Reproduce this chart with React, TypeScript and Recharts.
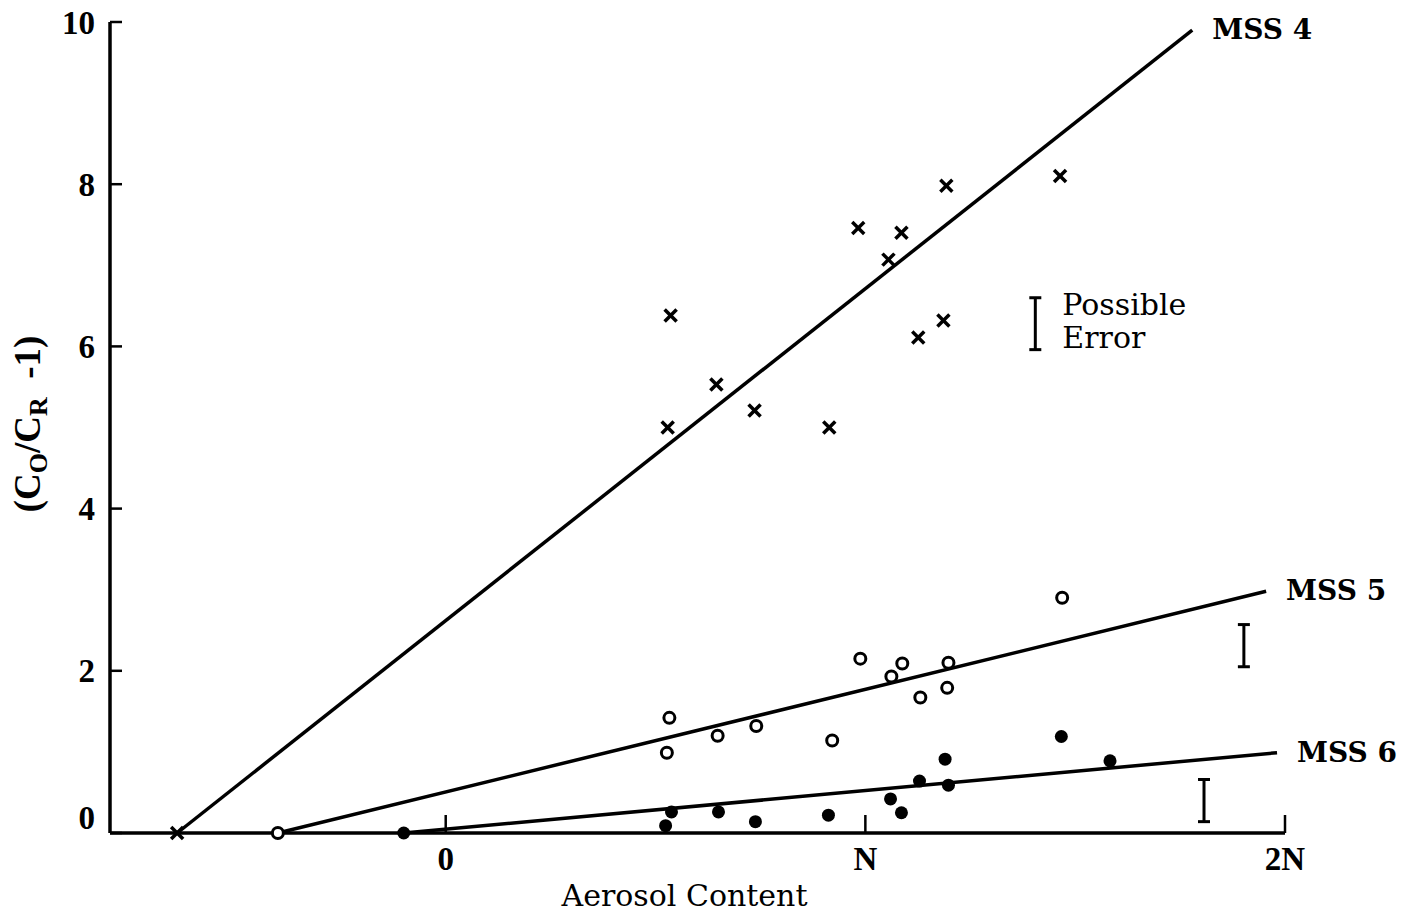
import React from 'react';
import { ComposedChart, Scatter, XAxis, YAxis, ErrorBar, Label } from 'recharts';

// x is in units of N (aerosol content), y is (Co/Cr - 1)
const mss4Points = [
  { x: -0.64, y: 0 },
  { x: 0.529, y: 5.0 },
  { x: 0.536, y: 6.38 },
  { x: 0.645, y: 5.53 },
  { x: 0.736, y: 5.21 },
  { x: 0.914, y: 5.0 },
  { x: 0.983, y: 7.46 },
  { x: 1.055, y: 7.07 },
  { x: 1.086, y: 7.4 },
  { x: 1.126, y: 6.11 },
  { x: 1.186, y: 6.32 },
  { x: 1.193, y: 7.98 },
  { x: 1.464, y: 8.1 },
];

const mss5Points = [
  { x: -0.4, y: 0 },
  { x: 0.527, y: 0.99 },
  { x: 0.533, y: 1.42 },
  { x: 0.648, y: 1.2 },
  { x: 0.74, y: 1.32 },
  { x: 0.921, y: 1.14 },
  { x: 0.988, y: 2.15 },
  { x: 1.062, y: 1.93 },
  { x: 1.088, y: 2.09 },
  { x: 1.131, y: 1.67 },
  { x: 1.195, y: 1.79 },
  { x: 1.198, y: 2.1 },
  { x: 1.469, y: 2.9 },
];

const mss6Points = [
  { x: -0.1, y: 0 },
  { x: 0.524, y: 0.09 },
  { x: 0.538, y: 0.26 },
  { x: 0.65, y: 0.26 },
  { x: 0.738, y: 0.14 },
  { x: 0.912, y: 0.22 },
  { x: 1.06, y: 0.42 },
  { x: 1.086, y: 0.25 },
  { x: 1.129, y: 0.64 },
  { x: 1.19, y: 0.91 },
  { x: 1.198, y: 0.59 },
  { x: 1.467, y: 1.19 },
  { x: 1.583, y: 0.89 },
];

// fitted lines (start, end)
const mss4Line = [{ x: -0.64, y: 0 }, { x: 1.779, y: 9.9, label: 'MSS 4' }];
const mss5Line = [{ x: -0.4, y: 0 }, { x: 1.955, y: 2.98, label: 'MSS 5' }];
const mss6Line = [{ x: -0.1, y: 0 }, { x: 1.981, y: 0.99, label: 'MSS 6' }];

// "possible error" bars
const errorMarks = [
  { x: 1.405, y: 6.28, err: 0.32, note: true },
  { x: 1.902, y: 2.31, err: 0.26 },
  { x: 1.807, y: 0.4, err: 0.26 },
];

const xTicks = [0, 1, 2];
const xTickLabels: Record<number, string> = { 0: '0', 1: 'N', 2: '2N' };
const yTicks = [0, 2, 4, 6, 8, 10];

const tickFont = { fontFamily: '"Liberation Serif", serif', fontWeight: 700, fontSize: 33, fill: '#000' };
const textFont = '"DejaVu Serif", serif';

const Cross = (props: any) => {
  const { cx, cy } = props;
  const s = 6;
  return (
    <g stroke="#000" strokeWidth={3.5}>
      <line x1={cx - s} y1={cy - s} x2={cx + s} y2={cy + s} />
      <line x1={cx - s} y1={cy + s} x2={cx + s} y2={cy - s} />
    </g>
  );
};

const OpenCircle = (props: any) => (
  <circle cx={props.cx} cy={props.cy} r={5.5} fill="#fff" stroke="#000" strokeWidth={3} />
);

const Dot = (props: any) => <circle cx={props.cx} cy={props.cy} r={6.5} fill="#000" />;

const LineEnd = (props: any) => {
  const { cx, cy, payload } = props;
  if (!payload || !payload.label) return <g />;
  return (
    <text x={cx + 20} y={cy + 9} fontFamily={textFont} fontWeight={700} fontSize={28} fill="#000">
      {payload.label}
    </text>
  );
};

const ErrorNote = (props: any) => {
  const { cx, cy, payload } = props;
  if (!payload || !payload.note) return <g />;
  return (
    <text fontFamily={textFont} fontSize={30} fill="#000">
      <tspan x={cx + 27} y={cy - 9}>Possible</tspan>
      <tspan x={cx + 27} y={cy + 24}>Error</tspan>
    </text>
  );
};

const YTick = (props: any) => {
  const { x, y, payload } = props;
  const shift = payload.value === 0 ? -16 : 0;
  return (
    <text x={x} y={y + shift} dy="0.35em" textAnchor="end" {...tickFont}>
      {payload.value}
    </text>
  );
};

const XTick = (props: any) => {
  const { x, y, payload } = props;
  return (
    <text x={x} y={y} dy="0.75em" textAnchor="middle" {...tickFont}>
      {xTickLabels[payload.value]}
    </text>
  );
};

const YLabel = () => (
  <text
    transform="translate(40, 424) rotate(-90)"
    textAnchor="middle"
    fontFamily='"Liberation Serif", serif'
    fontWeight={700}
    fontSize={37}
    fill="#000"
  >
    <tspan>(C</tspan>
    <tspan dy={7} fontSize={26}>O</tspan>
    <tspan dy={-7}>/C</tspan>
    <tspan dy={7} fontSize={26}>R</tspan>
    <tspan dy={-7}>{'\u2002-1)'}</tspan>
  </text>
);

export default function App() {
  return (
    <div style={{ position: 'absolute', left: 0, top: 0, width: 1410, height: 917, background: '#fff' }}>
      <ComposedChart width={1410} height={917} margin={{ top: 22, right: 125, left: 50, bottom: 54 }}>
        <XAxis
          type="number"
          dataKey="x"
          domain={[-0.8, 2]}
          ticks={xTicks}
          stroke="#000"
          axisLine={{ stroke: '#000', strokeWidth: 3.5 }}
          tickLine={{ stroke: '#000', strokeWidth: 2.5 }}
          tickSize={-18}
          tickMargin={30}
          tick={<XTick />}
          height={30}
        >
          <Label
            value="Aerosol Content"
            position="bottom"
            offset={22}
            dx={-13}
            style={{ fontFamily: textFont, fontSize: 30, fill: '#000' }}
          />
        </XAxis>
        <YAxis
          type="number"
          dataKey="y"
          domain={[0, 10]}
          ticks={yTicks}
          stroke="#000"
          axisLine={{ stroke: '#000', strokeWidth: 3.5 }}
          tickLine={{ stroke: '#000', strokeWidth: 2.5 }}
          tickSize={-12}
          tickMargin={27}
          tick={<YTick />}
          width={60}
          label={<YLabel />}
        />
        <Scatter data={mss4Line} line={{ stroke: '#000', strokeWidth: 3.5 }} shape={<LineEnd />} isAnimationActive={false} />
        <Scatter data={mss5Line} line={{ stroke: '#000', strokeWidth: 3.5 }} shape={<LineEnd />} isAnimationActive={false} />
        <Scatter data={mss6Line} line={{ stroke: '#000', strokeWidth: 3.5 }} shape={<LineEnd />} isAnimationActive={false} />
        <Scatter data={mss4Points} shape={<Cross />} isAnimationActive={false} />
        <Scatter data={mss5Points} shape={<OpenCircle />} isAnimationActive={false} />
        <Scatter data={mss6Points} shape={<Dot />} isAnimationActive={false} />
        <Scatter data={errorMarks} dataKey="y" shape={<ErrorNote />} isAnimationActive={false}>
          <ErrorBar dataKey="err" direction="y" width={6} stroke="#000" strokeWidth={3} isAnimationActive={false} />
        </Scatter>
      </ComposedChart>
    </div>
  );
}
